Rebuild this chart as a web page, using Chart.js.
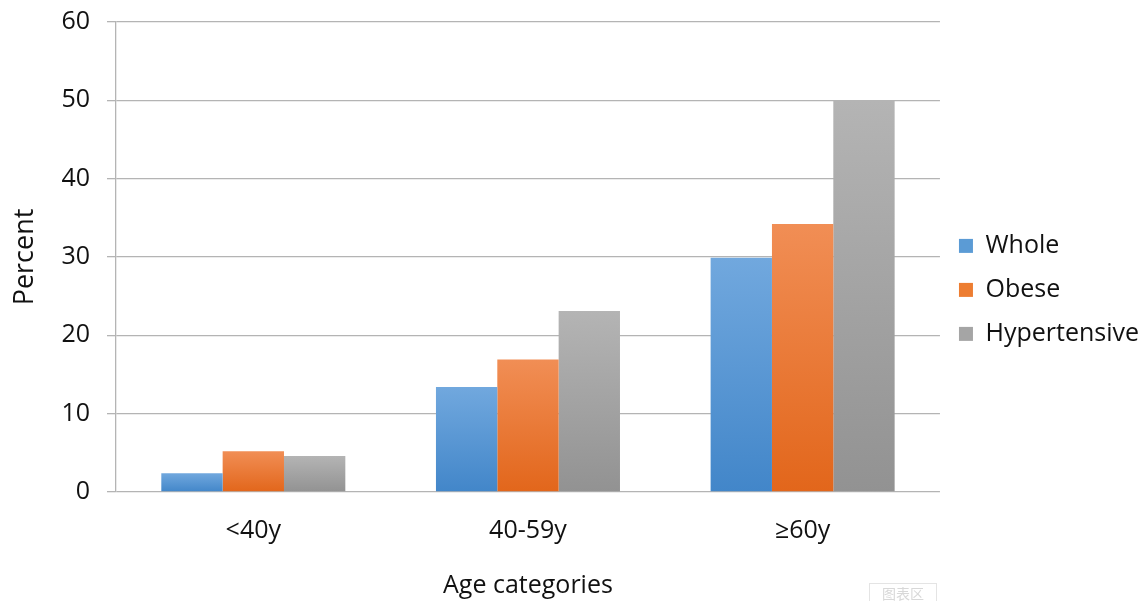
<!DOCTYPE html>
<html>
<head>
<meta charset="utf-8">
<script src="https://cdn.jsdelivr.net/npm/chart.js@4.4.1/dist/chart.umd.min.js"></script>
<style>
  html, body { margin: 0; padding: 0; background: #fff; }
  #wrap { position: relative; width: 1143px; height: 601px; }
  #tip { position: absolute; left: 869px; top: 583px; width: 66px; height: 18px; border: 1px solid #e4e4e4;
         color: #d8d8d8; font: 14px "Noto Sans CJK SC"; text-align: center; line-height: 18px; }
</style>
</head>
<body>
<div id="wrap">
  <canvas id="chartEdad" width="1143" height="601"></canvas>
  <div id="tip">图表区</div>
</div>
<script>
const categorias = ['<40y', '40-59y', '≥60y'];
const whole = [2.4, 13.4, 29.9];
const obese = [5.2, 16.9, 34.2];
const hypertensive = [4.6, 23.1, 49.9];
const ticksY = [0, 10, 20, 30, 40, 50, 60];

// gradiente por barra: claro arriba, oscuro abajo
function degradado(top, bottom) {
  return function (context) {
    const chart = context.chart;
    if (!chart.chartArea || context.parsed === undefined) return bottom;
    const y = chart.scales.y;
    const y0 = y.getPixelForValue(context.parsed.y);
    const y1 = y.getPixelForValue(0);
    if (y1 - y0 < 1) return bottom;
    const g = chart.ctx.createLinearGradient(0, y0, 0, y1);
    g.addColorStop(0, top);
    g.addColorStop(1, bottom);
    return g;
  };
}

const ctx = document.getElementById('chartEdad');

new Chart(ctx, {
  type: 'bar',
  data: {
    labels: categorias,
    datasets: [{
      label: 'Whole',
      data: whole,
      backgroundColor: degradado('#71a8de', '#4286c9'),
      borderWidth: 0
    }, {
      label: 'Obese',
      data: obese,
      backgroundColor: degradado('#f18e55', '#e2661b'),
      borderWidth: 0
    }, {
      label: 'Hypertensive',
      data: hypertensive,
      backgroundColor: degradado('#b4b4b4', '#929292'),
      borderWidth: 0
    }]
  },
  options: {
    responsive: false,
    animation: false,
    layout: { padding: { top: 0, right: -6, left: 5, bottom: 0 } },
    datasets: { bar: { barPercentage: 1, categoryPercentage: 0.67 } },
    plugins: {
      tooltip: { enabled: false },
      legend: {
        position: 'right',
        align: 'start',
        // título vacío solo para bajar la leyenda
        title: { display: true, text: ' ', font: { size: 12 }, padding: { top: 100, bottom: 100 } },
        labels: {
          font: { family: 'Open Sans', size: 25 },
          color: '#111',
          boxWidth: 14,
          boxHeight: 14,
          padding: 19,
          generateLabels: function (chart) {
            const cols = ['#5b9bd5', '#ed7d31', '#a5a5a5'];
            return chart.data.datasets.map((d, i) => ({
              text: d.label, fillStyle: cols[i], strokeStyle: cols[i], lineWidth: 0,
              fontColor: '#111', datasetIndex: i
            }));
          }
        }
      }
    },
    scales: {
      x: {
        grid: { display: false },
        border: { display: false },
        ticks: { font: { family: 'Open Sans', size: 25 }, color: '#111', padding: 16 },
        title: { display: true, text: 'Age categories', font: { family: 'Open Sans', size: 25 }, color: '#111', padding: { top: 9, bottom: 0 } }
      },
      y: {
        min: 0,
        max: 60,
        afterBuildTicks: function (axis) { axis.ticks = ticksY.map(v => ({ value: v })); },
        grid: { color: '#b4b4b4', lineWidth: 1.3, tickLength: 9 },
        border: { display: true, color: '#b4b4b4', width: 1.3 },
        ticks: { font: { family: 'Open Sans', size: 25, lineHeight: 0.4 }, color: '#111', padding: 17 },
        title: { display: true, text: 'Percent', font: { family: 'Open Sans', size: 27 }, color: '#111', padding: { top: 4, bottom: 3 } }
      }
    }
  }
});
</script>
</body>
</html>
